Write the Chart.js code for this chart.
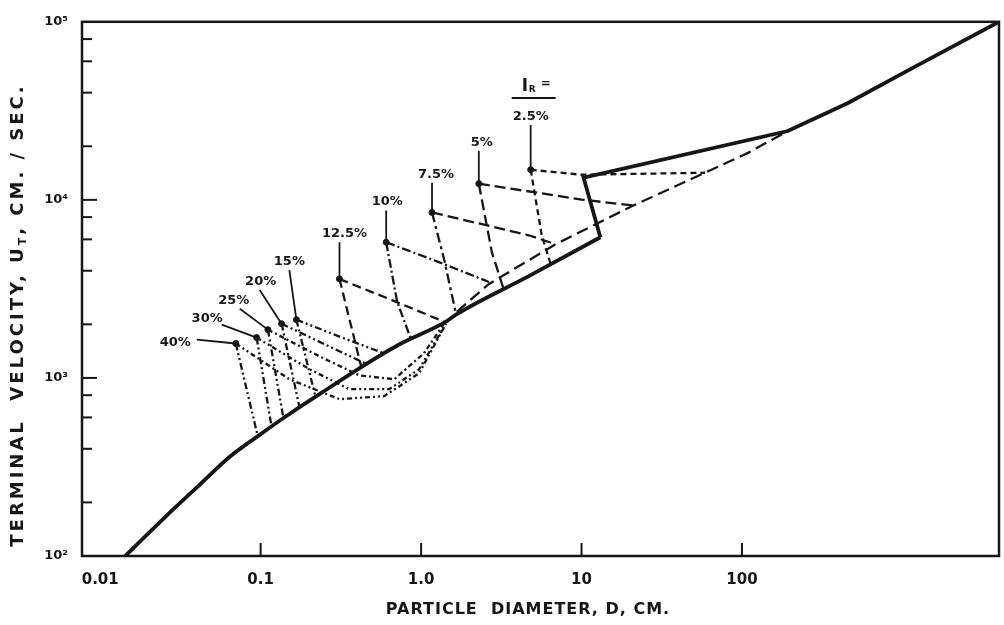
<!DOCTYPE html>
<html>
<head>
<meta charset="utf-8">
<script src="https://cdn.jsdelivr.net/npm/chart.js@4.4.1/dist/chart.umd.min.js"></script>
<style>
  html, body { margin: 0; padding: 0; background: #fff; }
  #wrap { width: 1004px; height: 625px; }
</style>
</head>
<body>
<div id="wrap"><canvas id="grafico" width="1004" height="625"></canvas></div>
<script>
// axes
var xTicks = [0.01, 0.1, 1, 10, 100];
var xTickLabels = ['0.01', '0.1', '1.0', '10', '100'];
var yTicks = [100, 1000, 10000, 100000];
var yTickLabels = ['10²', '10³', '10⁴', '10⁵'];
var yMinorTicks = [200, 400, 600, 800, 2000, 4000, 6000, 8000, 20000, 40000, 60000, 80000];

// main curve (D cm, Ut cm/sec)
var mainLowD = [0.0143, 0.0253, 0.0418, 0.0642, 0.0986, 0.151, 0.233, 0.412, 0.730, 1.43, 1.65, 4.69, 13.1];
var mainLowU = [100, 165, 252, 361, 479, 627, 811, 1132, 1540, 2070, 2265, 3730, 6165];
var mainUpD = [13.1, 10.3, 193, 455, 1240, 4000];
var mainUpU = [6165, 13320, 24360, 34900, 56870, 100000];

// dashed envelope
var envD = [1.67, 2.65, 6.90, 21.0, 58.9, 109, 193];
var envU = [2353, 3372, 5635, 9298, 14200, 18360, 24360];

// I_R families
var irLabels = ['2.5%', '5%', '7.5%', '10%', '12.5%', '15%', '20%', '25%', '30%', '40%'];
var markerD = [4.82, 2.29, 1.17, 0.606, 0.310, 0.167, 0.135, 0.111, 0.0944, 0.0700];
var markerU = [14760, 12330, 8500, 5781, 3595, 2124, 2017, 1867, 1685, 1561];
var leaderTopD = [4.82, 2.29, 1.17, 0.606, 0.310, 0.151, 0.0986, 0.0741, 0.0572, 0.0400];
var leaderTopU = [26320, 18840, 12490, 8720, 5781, 4035, 3121, 2446, 1991, 1643];

var downD = [[5.65, 6.42], [2.76, 3.28], [1.39, 1.65], [0.709, 0.867], [0.357, 0.424], [0.220], [0.175], [0.139], [0.117], [0.0958]];
var downU = [[6330, 4360], [5090, 3120], [4650, 2290], [2680, 1640], [2150, 1150], [780], [677], [588], [531], [473]];

var rightD = [[10.0, 58.9], [10.0, 21.0], [4.69, 6.90], [1.29, 2.65], [0.699, 1.39], [0.310, 0.589], [0.268, 0.462],
  [0.233, 0.412, 0.680, 1.04, 1.39], [0.202, 0.357, 0.633, 0.972, 1.39], [0.151, 0.310, 0.589, 0.972, 1.43]];
var rightU = [[13840, 14200], [10040, 9298], [6326, 5635], [4472, 3459], [2676, 2070], [1707, 1373], [1502, 1192],
  [1321, 1034, 983, 1373, 2017], [1118, 865, 865, 1118, 1941], [983, 760, 790, 1062, 2017]];

var ink = '#161616';
var downDash = [[6, 4], [11, 5], [10, 4, 3, 4], [9, 3, 2, 3], [9, 5], [7, 3, 2, 3, 2, 3], [7, 3, 2, 3, 2, 3], [7, 3, 2, 3, 2, 3], [7, 3, 2, 3, 2, 3], [7, 3, 2, 3, 2, 3]];
var rightDash = [[6, 4], [11, 5], [11, 5], [9, 3, 2, 3], [9, 5], [7, 3, 2, 3, 2, 3], [7, 3, 2, 3, 2, 3], [5, 3, 2, 3], [5, 3, 2, 3, 2, 3], [5, 3, 2, 3, 2, 3]];
var labelPos = ['top', 'top', 'top', 'top', 'top', 'top', 'top', 'top', 'left', 'left'];
var labelDx = [0, 3, 4, 1, 5, 0, 1, -6, 1, -6];
var labelDy = [-2, -2, -2, -2, -2, -2, -2, -2, 0, 3];

function pts(xs, ys) {
  var out = [];
  for (var i = 0; i < xs.length; i++) {
    out.push({x: xs[i], y: ys[i]});
  }
  return out;
}

function linea(data, width, dash) {
  return {
    data: data,
    showLine: true,
    borderColor: ink,
    borderWidth: width,
    borderDash: dash || [],
    pointRadius: 0,
    fill: false,
    tension: 0
  };
}

var datasets = [];
var low = linea(pts(mainLowD, mainLowU), 3.8);
low.cubicInterpolationMode = 'monotone';
datasets.push(low);
datasets.push(linea(pts(mainUpD, mainUpU), 3.8));
datasets.push(linea(pts(envD, envU), 2.3, [12, 6]));

for (var i = 0; i < irLabels.length; i++) {
  // leader
  datasets.push(linea([{x: leaderTopD[i], y: leaderTopU[i]}, {x: markerD[i], y: markerU[i]}], 1.8));
  // line down to the main curve
  datasets.push(linea([{x: markerD[i], y: markerU[i]}].concat(pts(downD[i], downU[i])), 2.3, downDash[i]));
  // line to the right
  datasets.push(linea([{x: markerD[i], y: markerU[i]}].concat(pts(rightD[i], rightU[i])), 2.3, rightDash[i]));
}

datasets.push({
  data: pts(markerD, markerU),
  showLine: false,
  pointRadius: 3,
  pointBackgroundColor: ink,
  pointBorderColor: ink
});

function trazo(ctx, x1, y1, x2, y2) {
  ctx.beginPath();
  ctx.moveTo(x1, y1);
  ctx.lineTo(x2, y2);
  ctx.stroke();
}

var dibujo = {
  id: 'dibujo',
  afterDraw: function(chart) {
    var ctx = chart.ctx;
    var a = chart.chartArea;
    var sx = chart.scales.x;
    var sy = chart.scales.y;
    ctx.save();
    ctx.strokeStyle = ink;
    ctx.fillStyle = ink;
    ctx.lineWidth = 2.5;
    ctx.strokeRect(a.left, a.top, a.right - a.left, a.bottom - a.top);

    // inward ticks
    ctx.lineWidth = 2;
    xTicks.forEach(function(v) {
      if (v <= 0.01) return;
      var px = sx.getPixelForValue(v);
      trazo(ctx, px, a.bottom, px, a.bottom - 13);
    });
    yTicks.forEach(function(v) {
      if (v == 100 || v == 100000) return;
      var py = sy.getPixelForValue(v);
      trazo(ctx, a.left, py, a.left + 15, py);
    });
    yMinorTicks.forEach(function(v) {
      var py = sy.getPixelForValue(v);
      trazo(ctx, a.left, py, a.left + 10, py);
    });

    // I_R labels
    ctx.font = 'bold 13px "DejaVu Sans"';
    for (var i = 0; i < irLabels.length; i++) {
      var px = sx.getPixelForValue(leaderTopD[i]) + labelDx[i];
      var py = sy.getPixelForValue(leaderTopU[i]) + labelDy[i];
      if (labelPos[i] == 'top') {
        ctx.textAlign = 'center';
        ctx.textBaseline = 'bottom';
      } else {
        ctx.textAlign = 'right';
        ctx.textBaseline = i == 9 ? 'middle' : 'bottom';
      }
      ctx.fillText(irLabels[i], px, py);
    }

    // header I_R =
    var hx = sx.getPixelForValue(leaderTopD[0]);
    var hy = sy.getPixelForValue(leaderTopU[0]);
    ctx.lineWidth = 2;
    trazo(ctx, hx - 19, hy - 27, hx + 25, hy - 27);
    ctx.textAlign = 'left';
    ctx.textBaseline = 'alphabetic';
    ctx.font = 'bold 17px "DejaVu Sans"';
    ctx.fillText('I', hx - 9, hy - 34);
    ctx.font = 'bold 9px "DejaVu Sans"';
    ctx.fillText('R', hx - 2, hy - 33);
    ctx.font = 'bold 12px "DejaVu Sans"';
    ctx.fillText('=', hx + 10, hy - 38);

    // x title
    ctx.font = 'bold 16px "DejaVu Sans"';
    ctx.letterSpacing = '1px';
    ctx.textAlign = 'center';
    ctx.textBaseline = 'middle';
    ctx.fillText('PARTICLE  DIAMETER, D, CM.', 528, 610);

    // y title, with subscript T
    ctx.translate(18, 315);
    ctx.rotate(-Math.PI / 2);
    ctx.letterSpacing = '3px';
    var p1 = 'TERMINAL  VELOCITY, U';
    var p2 = 'T';
    var p3 = ', CM. / SEC.';
    ctx.font = 'bold 18px "DejaVu Sans"';
    var w1 = ctx.measureText(p1).width;
    var w3 = ctx.measureText(p3).width;
    ctx.font = 'bold 11px "DejaVu Sans"';
    var w2 = ctx.measureText(p2).width;
    var x0 = -(w1 + w2 + w3) / 2;
    ctx.textAlign = 'left';
    ctx.font = 'bold 18px "DejaVu Sans"';
    ctx.fillText(p1, x0, 0);
    ctx.font = 'bold 11px "DejaVu Sans"';
    ctx.fillText(p2, x0 + w1, 5);
    ctx.font = 'bold 18px "DejaVu Sans"';
    ctx.fillText(p3, x0 + w1 + w2, 0);
    ctx.restore();
  }
};

var chart = new Chart(document.getElementById('grafico').getContext('2d'), {
  type: 'scatter',
  data: { datasets: datasets },
  options: {
    responsive: false,
    animation: false,
    devicePixelRatio: 1,
    layout: { padding: { top: 18, right: 2, left: 0, bottom: 0 } },
    plugins: {
      legend: { display: false },
      tooltip: { enabled: false }
    },
    scales: {
      x: {
        type: 'logarithmic',
        min: 0.0077,
        max: 4000,
        afterBuildTicks: function(scale) {
          scale.ticks = xTicks.map(function(v) { return {value: v}; });
        },
        afterFit: function(scale) { scale.height = 69; },
        grid: { display: false, drawTicks: false },
        border: { display: false },
        ticks: {
          padding: 15,
          color: ink,
          maxRotation: 0,
          autoSkip: false,
          font: { family: 'DejaVu Sans', size: 15, weight: 'bold' },
          callback: function(value, index) { return xTickLabels[index]; }
        }
      },
      y: {
        type: 'logarithmic',
        min: 100,
        max: 100000,
        afterBuildTicks: function(scale) {
          scale.ticks = yTicks.map(function(v) { return {value: v}; });
        },
        afterFit: function(scale) { scale.width = 82; },
        grid: { display: false, drawTicks: false },
        border: { display: false },
        ticks: {
          padding: 14,
          color: ink,
          autoSkip: false,
          font: { family: 'DejaVu Sans', size: 13, weight: 'bold' },
          callback: function(value, index) { return yTickLabels[index]; }
        }
      }
    }
  },
  plugins: [dibujo]
});
</script>
</body>
</html>
